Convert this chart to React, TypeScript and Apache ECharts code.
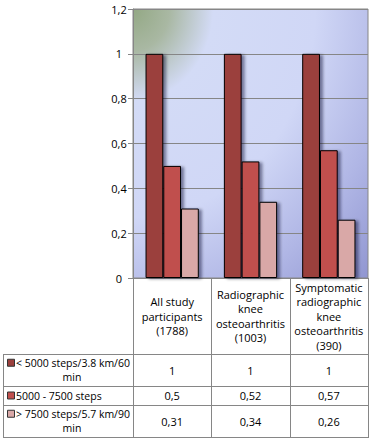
import React, { useEffect, useRef } from "react";
import * as echarts from "echarts";

const categories = [
  "All study\nparticipants\n(1788)",
  "Radiographic\nknee\nosteoarthritis\n(1003)",
  "Symptomatic\nradiographic\nknee\nosteoarthritis\n(390)",
];
const seriesNames = [
  "< 5000 steps/3.8 km/60\nmin",
  "5000 - 7500 steps",
  "> 7500 steps/5.7 km/90\nmin",
];
const lowSteps = [1, 1, 1];
const midSteps = [0.5, 0.52, 0.57];
const highSteps = [0.31, 0.34, 0.26];
const yTicks = [0, 0.2, 0.4, 0.6, 0.8, 1, 1.2];

const colors = ["#9b403d", "#c0504d", "#d9a8a7"];
const FONT = "'Open Sans', sans-serif";
const FS = 11;
const fmt = (v: number) => String(v).replace(".", ",");

export default function App() {
  const ref = useRef<HTMLDivElement>(null);
  useEffect(() => {
    if (!ref.current) return;
    const chart = echarts.init(ref.current, null, { renderer: "svg" });
    const series = [lowSteps, midSteps, highSteps];

    // table geometry (layout only)
    const gridL = 133, gridR = 368, zeroY = 278;
    const tableL = 3, headerBottom = 354;
    const rowLines = [354, 386, 405, 437];
    const colW = (gridR - gridL) / 3;
    const lineStyle = { stroke: "#868686", lineWidth: 1 };
    const graphics: any[] = [];
    for (let i = 0; i <= 3; i++) {
      const x = Math.round(gridL + colW * i) + 0.5;
      graphics.push({ type: "line", shape: { x1: x, y1: zeroY, x2: x, y2: rowLines[3] }, style: lineStyle, silent: true });
    }
    graphics.push({ type: "line", shape: { x1: tableL + 0.5, y1: headerBottom, x2: tableL + 0.5, y2: rowLines[3] }, style: lineStyle });
    rowLines.forEach((y) => {
      graphics.push({ type: "line", shape: { x1: tableL, y1: y + 0.5, x2: gridR + 1, y2: y + 0.5 }, style: lineStyle });
    });
    const rowCenters = [370, 395.5, 421];
    const LH = 14.5;
    series.forEach((vals, r) => {
      const cy = rowCenters[r];
      const lines = seriesNames[r].split("\n");
      const firstY = cy - ((lines.length - 1) * LH) / 2;
      graphics.push({
        type: "rect",
        shape: { x: 7.5, y: firstY - 3.5, width: 7, height: 7 },
        style: { fill: colors[r], stroke: "#333", lineWidth: 1 },
      });
      lines.forEach((ln, k) => {
        graphics.push({
          type: "text",
          x: k === 0 ? 16 : 72,
          y: firstY + k * LH,
          style: {
            text: ln,
            font: `10.5px ${FONT}`,
            fill: "#000",
            align: k === 0 ? "left" : "center",
            verticalAlign: "middle",
          },
        });
      });
      vals.forEach((v, c) => {
        graphics.push({
          type: "text",
          x: gridL + colW * (c + 0.5),
          y: cy,
          style: { text: fmt(v), font: `${FS}px ${FONT}`, fill: "#000", align: "center", verticalAlign: "middle" },
        });
      });
    });

    chart.setOption({
      animation: false,
      textStyle: { fontFamily: FONT },
      grid: {
        left: gridL,
        right: 370 - gridR,
        top: 9,
        bottom: 444 - zeroY,
        show: true,
        borderColor: "#868686",
        borderWidth: 1,
        backgroundColor: new echarts.graphic.RadialGradient(0, 0, 1.55, [
          { offset: 0, color: "#93a884" },
          { offset: 0.1, color: "#a9b8a3" },
          { offset: 0.22, color: "#d3dbf6" },
          { offset: 0.5, color: "#d0d7f6" },
          { offset: 0.72, color: "#b0b6e5" },
          { offset: 1, color: "#8287c8" },
        ]),
      },
      xAxis: {
        type: "category",
        data: categories,
        axisLine: { show: true, lineStyle: { color: "#868686" } },
        axisTick: { show: false },
        axisLabel: {
          interval: 0,
          margin: 38,
          verticalAlign: "middle",
          align: "center",
          lineHeight: LH,
          fontSize: FS,
          color: "#000",
          fontFamily: FONT,
        },
      },
      yAxis: {
        type: "value",
        min: yTicks[0],
        max: yTicks[yTicks.length - 1],
        interval: 0.2,
        axisLine: { show: true, lineStyle: { color: "#868686" } },
        axisTick: { show: true, length: 5, lineStyle: { color: "#868686" } },
        splitLine: { show: true, lineStyle: { color: "#868686", width: 1 } },
        axisLabel: {
          margin: 14,
          align: "center",
          fontSize: FS,
          color: "#000",
          fontFamily: FONT,
          formatter: (v: number) => fmt(Math.round(v * 10) / 10),
        },
      },
      series: series.map((vals, i) => ({
        type: "bar",
        name: seriesNames[i],
        data: vals,
        barGap: "0%",
        barCategoryGap: "32%",
        itemStyle: {
          color: colors[i],
          borderColor: "#000",
          borderWidth: 1,
          shadowColor: "rgba(0,0,40,0.45)",
          shadowBlur: 3,
          shadowOffsetX: 3,
          shadowOffsetY: 1,
        },
      })),
      graphic: graphics,
    });
    return () => chart.dispose();
  }, []);
  return <div ref={ref} style={{ width: 370, height: 444, position: "absolute", left: 0, top: 0 }} />;
}
